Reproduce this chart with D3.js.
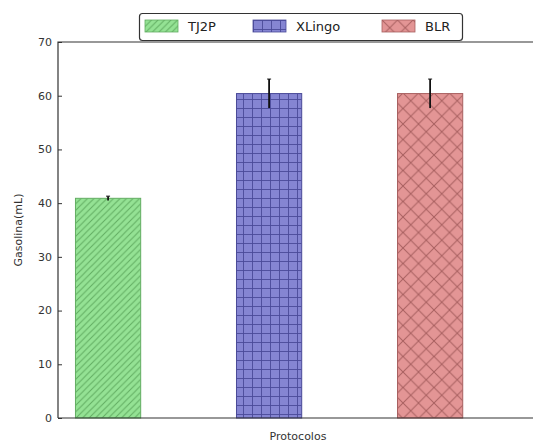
<!DOCTYPE html>
<html>
<head>
<meta charset="utf-8">
<script src="https://cdn.jsdelivr.net/npm/d3@7"></script>
<style>
  body { margin: 0; background: #fff; }
  svg { display: block; font-family: "DejaVu Sans", sans-serif; }
</style>
</head>
<body>
<div id="chart"></div>
<script>
// data
const protocols = ["TJ2P", "XLingo", "BLR"];
const gasolina = [40.9, 60.4, 60.4];
const errors = [0.4, 2.7, 2.7];
const yTicks = [0, 10, 20, 30, 40, 50, 60, 70];

const fills = ["#94e294", "#8585d2", "#e39595"];
const hatchColors = ["#62ad62", "#4a4a98", "#a86060"];
const hatchIds = ["hatchDiag", "hatchGrid", "hatchCross"];

const width = 533, height = 443;
const margin = {top: 42, left: 58, right: -5, bottom: 25};

const svg = d3.select("#chart").append("svg")
    .attr("width", width)
    .attr("height", height);

/***** HATCH PATTERNS *****/
const defs = svg.append("defs");

function addPattern(i, size, draw) {
    const p = defs.append("pattern")
        .attr("id", hatchIds[i])
        .attr("patternUnits", "userSpaceOnUse")
        .attr("width", size)
        .attr("height", size);
    p.append("rect").attr("width", size).attr("height", size).attr("fill", fills[i]);
    draw(p, size);
}

addPattern(0, 6.5, (p, s) => {
    p.append("path")
        .attr("d", `M0,${s} L${s},0 M${-s/2},${s/2} L${s/2},${-s/2} M${s/2},${s*1.5} L${s*1.5},${s/2}`)
        .attr("stroke", hatchColors[0]).attr("stroke-width", 1);
});
addPattern(1, 9, (p, s) => {
    p.append("path")
        .attr("d", `M0.5,0 V${s} M0,0.5 H${s}`)
        .attr("stroke", hatchColors[1]).attr("stroke-width", 0.9);
});
addPattern(2, 15.5, (p, s) => {
    p.append("path")
        .attr("d", `M0,0 L${s},${s} M${s},0 L0,${s}`)
        .attr("stroke", hatchColors[2]).attr("stroke-width", 1);
});

/***** SCALES *****/
let xScale = d3.scaleLinear()
    .domain([-0.311, 2.67])
    .range([margin.left, width - margin.right]);
let yScale = d3.scaleLinear()
    .domain([0, 70])
    .range([height - margin.bottom, margin.top]);

const barWidth = xScale(0.405) - xScale(0);

/***** AXES *****/
const plotLeft = xScale.range()[0], plotRight = xScale.range()[1];

svg.append("g")
    .attr("transform", `translate(${plotLeft},0)`)
    .call(d3.axisRight(yScale).tickValues(yTicks).tickSize(4).tickFormat(""))
    .call(g => g.select(".domain").remove())
    .selectAll("line").attr("stroke", "#333");

svg.append("g")
    .selectAll("text")
    .data(yTicks)
    .join("text")
    .attr("x", plotLeft - 6)
    .attr("y", d => yScale(d))
    .attr("dy", "0.35em")
    .attr("text-anchor", "end")
    .attr("font-size", 11)
    .attr("fill", "#333")
    .text(d => d);

// x ticks (inward, no labels)
svg.append("g")
    .selectAll("line")
    .data(protocols)
    .join("line")
    .attr("x1", (d, i) => xScale(i))
    .attr("x2", (d, i) => xScale(i))
    .attr("y1", yScale(0))
    .attr("y2", yScale(0) - 4)
    .attr("stroke", "#333");

/***** BARS *****/
const plot = svg.append("g");

plot.selectAll(".bar")
    .data(gasolina)
    .join("rect")
    .attr("class", "bar")
    .attr("x", (d, i) => xScale(i) - barWidth / 2)
    .attr("y", d => yScale(d))
    .attr("width", barWidth)
    .attr("height", d => yScale(0) - yScale(d))
    .attr("fill", (d, i) => `url(#${hatchIds[i]})`)
    .attr("stroke", (d, i) => hatchColors[i])
    .attr("stroke-width", 1);

// error bars
const err = plot.selectAll(".err")
    .data(gasolina)
    .join("g")
    .attr("class", "err");

err.append("line")
    .attr("x1", (d, i) => xScale(i))
    .attr("x2", (d, i) => xScale(i))
    .attr("y1", (d, i) => yScale(d + errors[i]))
    .attr("y2", (d, i) => yScale(d - errors[i]))
    .attr("stroke", "#111")
    .attr("stroke-width", 1.8);

err.append("line")
    .attr("x1", (d, i) => xScale(i) - 2)
    .attr("x2", (d, i) => xScale(i) + 2)
    .attr("y1", (d, i) => yScale(d + errors[i]))
    .attr("y2", (d, i) => yScale(d + errors[i]))
    .attr("stroke", "#111")
    .attr("stroke-width", 1);

// spines
svg.append("path")
    .attr("d", `M${plotLeft},${yScale(0)} V${yScale(70)} H${plotRight} M${plotLeft},${yScale(0)} H${plotRight}`)
    .attr("fill", "none")
    .attr("stroke", "#333")
    .attr("stroke-width", 1.2);

/***** LABELS *****/
svg.append("text")
    .attr("transform", `translate(22, ${(yScale(0) + yScale(70)) / 2}) rotate(-90)`)
    .attr("text-anchor", "middle")
    .attr("font-size", 11)
    .attr("fill", "#333")
    .text("Gasolina(mL)");

svg.append("text")
    .attr("x", (plotLeft + plotRight) / 2)
    .attr("y", 440)
    .attr("text-anchor", "middle")
    .attr("font-size", 11)
    .attr("fill", "#333")
    .text("Protocolos");

/***** LEGEND *****/
const legend = svg.append("g");
legend.append("rect")
    .attr("x", 139.5).attr("y", 13.5)
    .attr("width", 323).attr("height", 27)
    .attr("rx", 3)
    .attr("fill", "#fff")
    .attr("stroke", "#333")
    .attr("stroke-width", 1.2);

const legendX = [145, 253, 382];
const items = legend.selectAll(".item")
    .data(protocols)
    .join("g")
    .attr("transform", (d, i) => `translate(${legendX[i]}, 20)`);

items.append("rect")
    .attr("width", 33).attr("height", 12)
    .attr("fill", (d, i) => `url(#${hatchIds[i]})`)
    .attr("stroke", (d, i) => hatchColors[i])
    .attr("stroke-width", 0.8);

items.append("text")
    .attr("x", 43)
    .attr("y", 6)
    .attr("dy", "0.35em")
    .attr("font-size", 13)
    .attr("fill", "#222")
    .text(d => d);
</script>
</body>
</html>
